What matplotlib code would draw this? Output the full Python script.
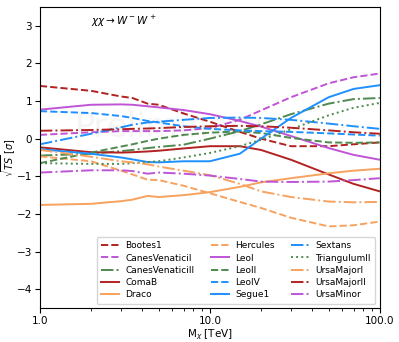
import numpy as np
import matplotlib
matplotlib.use("Agg")
import matplotlib.pyplot as plt
from matplotlib.ticker import FormatStrFormatter

# dark matter mass grid [TeV]
mass = [1, 2, 3, 3.5, 4.3, 5, 7, 10, 15, 20, 30, 50, 70, 100]

# sqrt(TS) per dwarf galaxy
bootes1 = [1.4, 1.27, 1.12, 1.08, 0.93, 0.9, 0.67, 0.45, 0.18, 0.0, -0.2, -0.2, -0.15, -0.1]
canes1 = [0.1, 0.17, 0.2, 0.2, 0.2, 0.2, 0.22, 0.28, 0.5, 0.75, 1.1, 1.47, 1.63, 1.73]
canes2 = [-0.45, -0.4, -0.33, -0.3, -0.25, -0.22, -0.16, 0.0, 0.2, 0.38, 0.65, 0.93, 1.05, 1.08]
comab = [-0.23, -0.36, -0.37, -0.36, -0.34, -0.32, -0.26, -0.2, -0.2, -0.3, -0.56, -0.95, -1.2, -1.4]
draco = [-1.76, -1.73, -1.66, -1.62, -1.52, -1.55, -1.5, -1.42, -1.28, -1.16, -1.05, -0.92, -0.85, -0.8]
hercules = [-0.47, -0.6, -0.85, -0.95, -1.09, -1.1, -1.25, -1.45, -1.68, -1.84, -2.1, -2.33, -2.3, -2.2]
leo1 = [0.77, 0.9, 0.91, 0.9, 0.86, 0.83, 0.76, 0.65, 0.47, 0.32, 0.07, -0.25, -0.43, -0.56]
leo2 = [-0.65, -0.37, -0.21, -0.15, -0.06, 0.0, 0.1, 0.16, 0.19, 0.15, 0.02, -0.1, -0.11, -0.1]
leo4 = [0.73, 0.68, 0.6, 0.55, 0.47, 0.43, 0.33, 0.26, 0.22, 0.2, 0.18, 0.14, 0.11, 0.08]
segue1 = [-0.28, -0.4, -0.5, -0.55, -0.62, -0.63, -0.6, -0.6, -0.4, 0.0, 0.55, 1.1, 1.32, 1.42]
sextans = [-0.15, 0.13, 0.3, 0.37, 0.43, 0.45, 0.5, 0.55, 0.56, 0.55, 0.5, 0.4, 0.33, 0.26]
tri2 = [-0.65, -0.67, -0.67, -0.65, -0.62, -0.6, -0.5, -0.38, -0.2, -0.03, 0.25, 0.62, 0.82, 0.95]
uma1 = [-0.3, -0.48, -0.6, -0.63, -0.68, -0.74, -0.85, -0.97, -1.2, -1.4, -1.55, -1.67, -1.69, -1.68]
uma2 = [0.21, 0.23, 0.25, 0.26, 0.27, 0.28, 0.31, 0.33, 0.34, 0.33, 0.29, 0.22, 0.17, 0.13]
umi = [-0.9, -0.84, -0.84, -0.86, -0.93, -0.9, -0.93, -0.98, -1.07, -1.14, -1.15, -1.14, -1.1, -1.05]

red = '#b22222'
purple = '#bf55d6'
green = '#4f8a4f'
orange = '#f7a25e'
blue = '#1e90ff'

series = [
    ("Bootes1", bootes1, red, '--'),
    ("CanesVenaticiI", canes1, purple, '--'),
    ("CanesVenaticiII", canes2, green, '-.'),
    ("ComaB", comab, red, '-'),
    ("Draco", draco, orange, '-'),
    ("Hercules", hercules, orange, '--'),
    ("LeoI", leo1, purple, '-'),
    ("LeoII", leo2, green, '--'),
    ("LeoIV", leo4, blue, '--'),
    ("Segue1", segue1, blue, '-'),
    ("Sextans", sextans, blue, '-.'),
    ("TriangulumII", tri2, green, ':'),
    ("UrsaMajorI", uma1, orange, '-.'),
    ("UrsaMajorII", uma2, red, '-.'),
    ("UrsaMinor", umi, purple, '-.'),
]

fig = plt.figure(figsize=(3.99, 3.42), dpi=100)
ax = fig.add_axes([0.1, 0.099, 0.852, 0.881])

for name, vals, col, ls in series:
    ax.plot(mass, vals, color=col, ls=ls, lw=1.4, label=name)

ax.text(0.38, 0.6, "Preliminary", transform=ax.transAxes, fontsize=24,
        color='#000000', alpha=0.04, ha='center', va='center')
ax.text(0.15, 0.94, r"$\chi\chi \rightarrow W^-W^+$", transform=ax.transAxes, fontsize=7.5)

ax.set_xscale('log')
ax.set_xlim(1, 100)
ax.set_ylim(-4.5, 3.5)
ax.set_yticks([-4, -3, -2, -1, 0, 1, 2, 3])
ax.xaxis.set_major_formatter(FormatStrFormatter('%.1f'))
ax.tick_params(labelsize=7.5, pad=2)
ax.set_xlabel(r"M$_\chi$ [TeV]", fontsize=7.5, labelpad=1)
ax.set_ylabel(r"$\sqrt{TS}$ [$\sigma$]", fontsize=7)
ax.yaxis.set_label_coords(-0.064, 0.5)
ax.legend(loc='lower right', ncol=3, fontsize=6.5, handlelength=2.0,
          handletextpad=0.7, columnspacing=1.8, labelspacing=0.35, borderpad=0.5)

fig.savefig("out.png", dpi=100)
